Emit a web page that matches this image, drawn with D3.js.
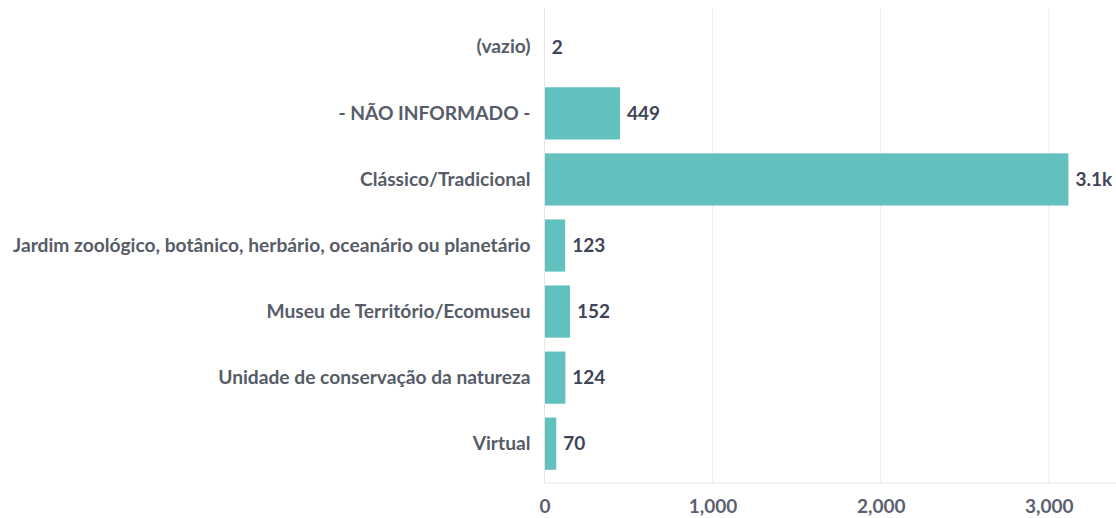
<!DOCTYPE html>
<html><head><meta charset="utf-8">
<script src="https://cdn.jsdelivr.net/npm/d3@7"></script>
<style>
html,body{margin:0;padding:0;background:#fff;}
svg{display:block;font-family:Lato,"Open Sans",sans-serif;}
</style></head>
<body><svg id="chart" width="1116" height="518"></svg>
<script>
const categories = ["(vazio)", "- NÃO INFORMADO -", "Clássico/Tradicional", "Jardim zoológico, botânico, herbário, oceanário ou planetário", "Museu de Território/Ecomuseu", "Unidade de conservação da natureza", "Virtual"];
const values = [2, 449, 3117, 123, 152, 124, 70];
const valueLabels = ["2", "449", "3.1k", "123", "152", "124", "70"];
const tickValues = [0, 1000, 2000, 3000];

const svg = d3.select("#chart");
const mLeft = 544.5, mRight = 1116, mTop = 8, mBottom = 483;
const x = d3.scaleLinear().domain([0, 3400]).range([mLeft, mRight]);
const y = d3.scaleBand().domain(categories).range([mTop, mBottom]).paddingInner(0.21).paddingOuter(0.2);

// gridlines
svg.append("g").selectAll("line").data(tickValues.slice(1)).join("line")
  .attr("x1", d => x(d)).attr("x2", d => x(d)).attr("y1", mTop).attr("y2", mBottom)
  .attr("stroke", "#ececec").attr("stroke-width", 1);

// bars
svg.append("g").selectAll("rect").data(values).join("rect")
  .attr("x", x(0)).attr("y", (d, i) => y(categories[i]))
  .attr("width", d => x(d) - x(0)).attr("height", y.bandwidth())
  .attr("fill", "#62c0bf");

// axes lines
svg.append("line").attr("x1", mLeft).attr("x2", mLeft).attr("y1", mTop).attr("y2", mBottom).attr("stroke", "#e6e6e6");
svg.append("line").attr("x1", mLeft).attr("x2", mRight).attr("y1", mBottom).attr("y2", mBottom).attr("stroke", "#e6e6e6");

// x axis
const xAxis = d3.axisBottom(x).tickValues(tickValues).tickFormat(d3.format(",")).tickSize(0).tickPadding(17);
const gx = svg.append("g").attr("transform", `translate(0,${mBottom})`).call(xAxis);
gx.select(".domain").remove();
gx.selectAll("text").attr("font-family", "Lato").attr("font-size", 19).attr("font-weight", 700).attr("fill", "#5b6170");

// y axis labels
const yAxis = d3.axisLeft(y).tickSize(0).tickPadding(14);
const gy = svg.append("g").attr("transform", `translate(${mLeft},0)`).call(yAxis);
gy.select(".domain").remove();
gy.selectAll("text").attr("font-family", "Lato").attr("font-size", 19.2).attr("font-weight", 700).attr("fill", "#565c68");

// value labels
svg.append("g").selectAll("text").data(values).join("text")
  .attr("x", d => x(d) + 7).attr("y", (d, i) => y(categories[i]) + y.bandwidth() / 2)
  .attr("dy", "0.35em").attr("font-size", 19).attr("font-weight", 700).attr("fill", "#3f4559")
  .text((d, i) => valueLabels[i]);
</script></body></html>
